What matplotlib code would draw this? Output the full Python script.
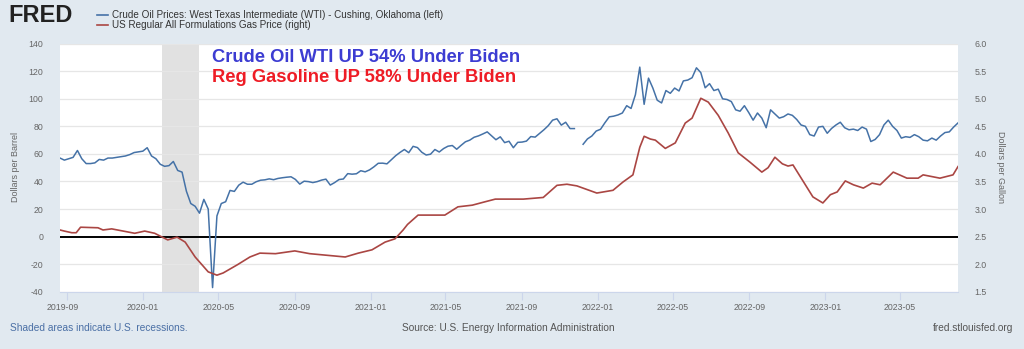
import matplotlib
matplotlib.use('Agg')
import matplotlib.pyplot as plt
import matplotlib.dates as mdates
from matplotlib.lines import Line2D
from matplotlib.transforms import ScaledTranslation
import numpy as np
import pandas as pd

plt.rcParams['font.family'] = ['Liberation Sans', 'DejaVu Sans']
plt.rcParams['axes.unicode_minus'] = False

# ---------------- data ----------------
wti_start = '2019-08-21'   # weekly observations (7-day spacing)
wti_2019 = [57.0, 55.5, 56.5, 57.5, 62.5, 56.5, 53.0, 53.0, 53.5, 56.0, 55.5, 57.0, 57.0,
            57.5, 58.0, 58.5, 59.5, 61.0, 61.5]
wti_2020 = [62.0, 64.5, 58.5, 56.5, 52.5,
            51.0, 51.5, 54.5, 48.0,
            46.8, 32.9, 24.0, 22.0,
            17.0, 27.0, 20.0, -37.0, 15.0,
            24.0, 25.3, 33.5, 32.8,
            37.3, 39.5, 38.0, 38.0,
            39.8, 40.9, 41.2, 41.9, 41.3,
            42.2, 42.7, 43.1, 43.4,
            41.5, 38.1, 40.2, 39.9, 39.2,
            39.9, 41.0, 41.7, 37.4,
            39.2, 41.4, 41.8, 45.7,
            45.3, 45.6, 47.8, 47.0, 48.4]
wti_2021 = [50.6, 53.2, 53.3, 52.8,
            55.7, 58.7, 61.1, 63.2,
            60.9, 65.5, 64.6, 61.2, 59.2,
            59.8, 63.2, 61.4, 63.9,
            65.6, 66.1, 63.4, 66.2,
            68.8, 70.0, 72.1, 73.1, 74.5,
            76.0, 73.1, 70.3, 72.4,
            68.2, 69.2, 64.5, 68.4,
            68.6, 69.3, 72.6, 72.2, 74.9,
            77.5, 80.5, 84.5, 85.5,
            80.9, 83.0, 78.4, 78.4,
            np.nan, 67.0, 70.9, 73.0, 76.6]
wti_2022 = [77.9, 82.6, 86.9, 87.4,
            88.3, 89.7, 95.0, 93.0,
            103.0, 123.0, 96.0, 115.0, 107.8,
            99.0, 97.0, 106.0, 104.0,
            107.8, 105.7, 113.0, 113.6,
            115.3, 122.5, 119.0, 108.0, 111.0,
            106.0, 107.0, 100.0, 99.5,
            98.0, 92.0, 91.0, 95.0, 90.0,
            84.5, 89.7, 86.0, 79.0,
            92.0, 89.0, 86.0, 87.0,
            89.0, 88.0, 85.0, 81.0, 80.0,
            74.0, 73.0, 79.5, 80.0]
wti_2023 = [75.0, 78.5, 81.0, 83.0,
            79.0, 77.5, 78.0, 77.0,
            79.5, 78.0, 69.0, 70.5, 74.0,
            81.0, 84.5, 80.0, 77.0,
            71.5, 72.5, 72.0, 74.0, 72.5,
            70.0, 69.5, 71.5, 70.0,
            73.0, 75.5, 76.0, 79.5,
            82.5]
wti = wti_2019 + wti_2020 + wti_2021 + wti_2022 + wti_2023

gas_dates = ['2019-08-21', '2019-08-28', '2019-09-09', '2019-09-16', '2019-09-23', '2019-10-21',
             '2019-10-29', '2019-11-12', '2019-12-19', '2020-01-04', '2020-01-20', '2020-02-10',
             '2020-02-25', '2020-03-09', '2020-03-25', '2020-04-15', '2020-04-29', '2020-05-09',
             '2020-06-01', '2020-06-21', '2020-07-07', '2020-08-01', '2020-09-01', '2020-09-25',
             '2020-11-02', '2020-11-21', '2020-12-12', '2021-01-03', '2021-01-24', '2021-02-09',
             '2021-02-22', '2021-03-01', '2021-03-18', '2021-04-30', '2021-05-21', '2021-06-13',
             '2021-07-03', '2021-07-20', '2021-09-03', '2021-10-05', '2021-10-27', '2021-11-12',
             '2021-11-28', '2021-12-30', '2022-01-25', '2022-02-10', '2022-02-26', '2022-03-09',
             '2022-03-16', '2022-03-26', '2022-04-03', '2022-04-19', '2022-05-05', '2022-05-21',
             '2022-06-01', '2022-06-15', '2022-06-27', '2022-07-13', '2022-07-29', '2022-08-14',
             '2022-09-02', '2022-09-21', '2022-10-01', '2022-10-12', '2022-10-24', '2022-11-02',
             '2022-11-10', '2022-12-12', '2022-12-28', '2023-01-09', '2023-01-20', '2023-02-02',
             '2023-02-15', '2023-03-03', '2023-03-17', '2023-03-30', '2023-04-20', '2023-05-12',
             '2023-05-30', '2023-06-07', '2023-07-04', '2023-07-25', '2023-08-02']
gas = [2.62, 2.60, 2.57, 2.57, 2.67, 2.66,
       2.62, 2.64, 2.56, 2.60, 2.56, 2.44,
       2.49, 2.40, 2.13, 1.86, 1.80, 1.84,
       1.99, 2.13, 2.20, 2.19, 2.24, 2.19,
       2.15, 2.13, 2.20, 2.26, 2.40, 2.46,
       2.62, 2.72, 2.89, 2.89, 3.04, 3.07,
       3.13, 3.18, 3.18, 3.21, 3.43, 3.45,
       3.42, 3.29, 3.34, 3.49, 3.62, 4.12,
       4.32, 4.27, 4.25, 4.10, 4.20, 4.56,
       4.65, 5.01, 4.94, 4.70, 4.38, 4.02,
       3.85, 3.67, 3.75, 3.94, 3.82, 3.78,
       3.80, 3.22, 3.11, 3.26, 3.31, 3.51,
       3.44, 3.38, 3.47, 3.44, 3.67, 3.56,
       3.56, 3.62, 3.56, 3.62, 3.77]

recession = ('2020-02-01', '2020-04-01')
left_ticks = [-40, -20, 0, 20, 40, 60, 80, 100, 120, 140]
right_ticks = [1.5, 2.0, 2.5, 3.0, 3.5, 4.0, 4.5, 5.0, 5.5, 6.0]

series1 = 'Crude Oil Prices: West Texas Intermediate (WTI) - Cushing, Oklahoma (left)'
series2 = 'US Regular All Formulations Gas Price (right)'
note1 = 'Crude Oil WTI UP 54% Under Biden'
note2 = 'Reg Gasoline UP 58% Under Biden'

# ---------------- figure ----------------
W, H = 1024, 349
BG = '#e1e9f0'
BLUE = '#4572a7'
RED = '#aa4643'
GRAY = '#666666'

fig = plt.figure(figsize=(W / 100, H / 100), dpi=100, facecolor=BG)

def fx(px):
    return px / W

def fy(py):
    return 1 - py / H

L, R, T, B = 60, 958, 43.7, 291.7
ax = fig.add_axes([fx(L), fy(B), (R - L) / W, (B - T) / H])
ax.set_facecolor('white')

wti_dates = pd.date_range(wti_start, periods=len(wti), freq='7D')
gdates = pd.to_datetime(gas_dates)

ax.axvspan(pd.Timestamp(recession[0]), pd.Timestamp(recession[1]), color='#e1e1e1', zorder=0, lw=0)
for t in left_ticks:
    if t != 0:
        ax.axhline(t, color='#e6e6e6', lw=0.9, zorder=1)
ax.axhline(0, color='black', lw=1.4, zorder=4)

ax.plot(wti_dates, wti, color=BLUE, lw=1.1, zorder=5)
ax.set_ylim(-40, 140)
ax.set_yticks(left_ticks)
ax.set_xlim(wti_dates[0], wti_dates[-1])

ax2 = ax.twinx()
ax2.plot(gdates, gas, color=RED, lw=1.2, zorder=3)
ax2.set_ylim(1.5, 6.0)
ax2.set_yticks(right_ticks)
ax2.set_yticklabels([f'{v:.1f}' for v in right_ticks])
ax2.set_xlim(wti_dates[0], wti_dates[-1])

xt = pd.date_range('2019-09-01', '2023-05-01', freq='4MS')
ax.set_xticks(xt)
ax.xaxis.set_major_formatter(mdates.DateFormatter('%Y-%m'))

for a in (ax, ax2):
    for s in a.spines.values():
        s.set_visible(False)
ax.spines['bottom'].set_visible(True)
ax.spines['bottom'].set_color('#ccd6eb')

ax.tick_params(axis='x', length=6, color='#ccd6eb', labelsize=6.3, labelcolor=GRAY, pad=2)
ax.tick_params(axis='y', length=0, labelsize=6.3, labelcolor=GRAY, pad=12)
ax2.tick_params(axis='y', length=0, labelsize=6.3, labelcolor=GRAY, pad=12)
ax2.tick_params(axis='x', length=0)

fig.canvas.draw()
first = ax.get_xticklabels()[0]
first.set_transform(first.get_transform() + ScaledTranslation(-0.045, 0, fig.dpi_scale_trans))

fig.text(fx(15), fy(167), 'Dollars per Barrel', rotation=90, ha='center', va='center',
         fontsize=6.5, color=GRAY)
fig.text(fx(1000), fy(167), 'Dollars per Gallon', rotation=270, ha='center', va='center',
         fontsize=6.5, color=GRAY)

# annotations
ax.text(0.169, 0.943, note1, transform=ax.transAxes, fontsize=13.2, fontweight='bold',
        color='#3c3cd2', ha='left', va='center', zorder=6)
ax.text(0.169, 0.862, note2, transform=ax.transAxes, fontsize=13.2, fontweight='bold',
        color='#ee1c25', ha='left', va='center', zorder=6)

# header
fig.text(fx(8), fy(16), 'FRED', fontsize=17, fontweight='bold', color='#222222',
         ha='left', va='center')
fig.add_artist(Line2D([fx(97), fx(108)], [fy(15), fy(15)], color=BLUE, lw=1.2))
fig.add_artist(Line2D([fx(97), fx(108)], [fy(25), fy(25)], color=RED, lw=1.2))
fig.text(fx(112), fy(15), series1, fontsize=7.1, color='#333333', ha='left', va='center')
fig.text(fx(112), fy(25), series2, fontsize=7.1, color='#333333', ha='left', va='center')

# footer
fig.text(fx(10), fy(328), 'Shaded areas indicate U.S. recessions.', fontsize=7.3,
         color='#4a6fa5', ha='left', va='center')
fig.text(fx(508), fy(328), 'Source: U.S. Energy Information Administration', fontsize=7.3,
         color='#555555', ha='center', va='center')
fig.text(fx(1013), fy(328), 'fred.stlouisfed.org', fontsize=7.3, color='#555555',
         ha='right', va='center')

fig.savefig('out.png', dpi=100, facecolor=BG)
